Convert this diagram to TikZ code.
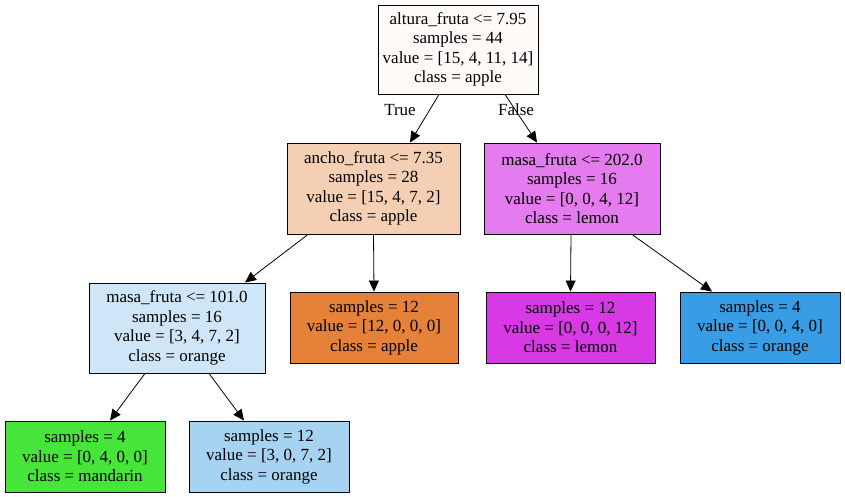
\documentclass[tikz,border=0pt]{standalone}
\usepackage{fontspec}
\setmainfont{Liberation Serif}
\usetikzlibrary{arrows.meta, positioning}

\definecolor{cRoot}{HTML}{FEFBF8}
\definecolor{cAncho}{HTML}{F5CFB4}
\definecolor{cMasaHi}{HTML}{E47BEE}
\definecolor{cMasaLo}{HTML}{CEE6F8}
\definecolor{cApple}{HTML}{E58139}
\definecolor{cMandarin}{HTML}{47E539}
\definecolor{cOrange}{HTML}{399DE5}
\definecolor{cOrangeLt}{HTML}{A7D3F3}
\definecolor{cLemon}{HTML}{D739E5}

\begin{document}
\begin{tikzpicture}[x=1pt, y=-1pt,
    font=\fontsize{17}{19.5}\selectfont,
    box/.style={draw=black, line width=0.9pt, align=center, inner sep=0pt},
    edge/.style={-{Triangle[length=11pt, width=10pt]}, line width=0.8pt}]
    \useasboundingbox[fill=white] (0,0) rectangle (845,497);
    \node[box, fill=cRoot, minimum width=160pt, minimum height=89pt] (root) at (458,49.5) {altura\_fruta <= 7.95\\samples = 44\\value = [15, 4, 11, 14]\\class = apple};
    \node[box, fill=cAncho, minimum width=173pt, minimum height=91pt] (ancho) at (373.5,188.5) {ancho\_fruta <= 7.35\\samples = 28\\value = [15, 4, 7, 2]\\class = apple};
    \node[box, fill=cMasaHi, minimum width=176pt, minimum height=91pt] (masaHi) at (572,188.5) {masa\_fruta <= 202.0\\samples = 16\\value = [0, 0, 4, 12]\\class = lemon};
    \node[box, fill=cMasaLo, minimum width=176pt, minimum height=90pt] (masaLo) at (177,328) {masa\_fruta <= 101.0\\samples = 16\\value = [3, 4, 7, 2]\\class = orange};
    \node[box, fill=cApple, minimum width=168pt, minimum height=71pt] (leafApple) at (374,327.5) {samples = 12\\value = [12, 0, 0, 0]\\class = apple};
    \node[box, fill=cLemon, minimum width=169pt, minimum height=71pt] (leafLemon) at (570.5,327.5) {samples = 12\\value = [0, 0, 0, 12]\\class = lemon};
    \node[box, fill=cOrange, minimum width=160pt, minimum height=71pt] (leafOrange) at (760,327.5) {samples = 4\\value = [0, 0, 4, 0]\\class = orange};
    \node[box, fill=cMandarin, minimum width=160pt, minimum height=71pt] (leafMandarin) at (85,456.5) {samples = 4\\value = [0, 4, 0, 0]\\class = mandarin};
    \node[box, fill=cOrangeLt, minimum width=160pt, minimum height=71pt] (leafOrangeLt) at (269,456.5) {samples = 12\\value = [3, 0, 7, 2]\\class = orange};

    \draw[edge] ([xshift=-19pt]root.south) -- ([xshift=36.5pt]ancho.north);
    \draw[edge] ([xshift=47pt]root.south) -- ([xshift=-35pt]masaHi.north);
    \node (lblTrue) at (400,110) {True};
    \node (lblFalse) at (516,110) {False};
    \draw[edge] ([xshift=-65.5pt]ancho.south) -- ([xshift=68pt]masaLo.north);
    \draw[edge] (ancho.south) -- (leafApple.north);
    \draw[edge] ([xshift=-1pt]masaHi.south) -- (leafLemon.north);
    \draw[edge] ([xshift=60pt]masaHi.south) -- ([xshift=-48pt]leafOrange.north);
    \draw[edge] ([xshift=-32pt]masaLo.south) -- ([xshift=25pt]leafMandarin.north);
    \draw[edge] ([xshift=32pt]masaLo.south) -- ([xshift=-25pt]leafOrangeLt.north);
\end{tikzpicture}
\end{document}
